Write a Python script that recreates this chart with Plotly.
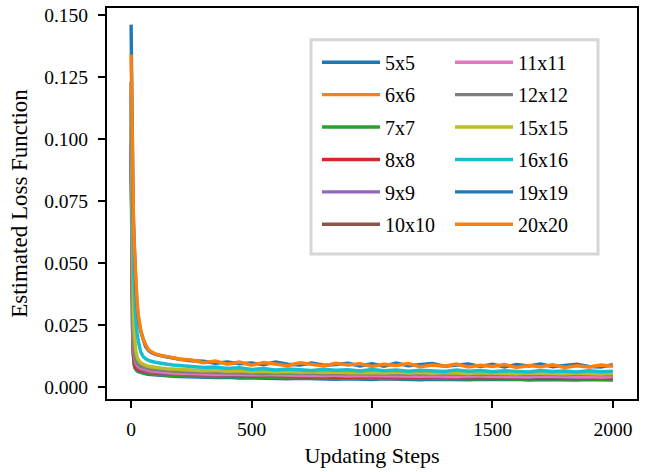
import plotly.graph_objects as go

FONT = "Liberation Serif, Times New Roman, serif"

# Updating steps at which the loss was logged
STEPS = [0, 2, 4, 6, 8, 10, 13, 16, 20, 25, 30, 40, 50, 60, 70, 80, 100, 120, 150, 175, 200] + list(range(250, 2001, 50))

SERIES_NAMES = ["5x5", "6x6", "7x7", "8x8", "9x9", "10x10",
                "11x11", "12x12", "15x15", "16x16", "19x19", "20x20"]

COLORS = ["#1f77b4", "#ff7f0e", "#2ca02c", "#d62728", "#9467bd", "#8c564b",
          "#e377c2", "#7f7f7f", "#bcbd22", "#17becf", "#1f77b4", "#ff7f0e"]

# Estimated loss (in units of 1e-3) for each grid size
LOSS_5x5 = [123, 66, 38, 24, 15.5, 11.2, 9.0, 7.7, 7.0, 6.5, 6.2, 5.8, 5.5, 5.3, 5.1, 5.0, 4.8, 4.6, 4.5, 4.3, 4.2,
            4.0, 4.1, 3.8, 3.9, 3.6, 3.7, 3.5, 3.6, 3.3, 3.5, 3.3, 3.4, 3.1, 3.3, 3.2, 3.0, 3.3, 3.1, 3.2, 2.9,
            3.1, 3.0, 3.2, 2.9, 3.1, 2.9, 3.0, 3.1, 2.8, 3.0, 2.9, 3.0, 2.8, 3.0, 2.9, 2.8]
LOSS_6x6 = [120, 70, 42, 27, 17.5, 12.5, 9.8, 8.3, 7.5, 7.0, 6.7, 6.3, 6.0, 5.8, 5.6, 5.5, 5.3, 5.1, 4.9, 4.8, 4.7,
            4.7, 4.5, 4.4, 4.3, 4.3, 4.1, 4.2, 4.0, 4.1, 3.9, 4.0, 3.8, 3.9, 3.8, 3.9, 3.7, 3.8, 3.7, 3.7, 3.6,
            3.7, 3.6, 3.6, 3.5, 3.6, 3.5, 3.6, 3.5, 3.4, 3.5, 3.4, 3.5, 3.4, 3.4, 3.5, 3.4]
LOSS_7x7 = [92, 58, 37, 24, 15.5, 11.5, 9.3, 8.0, 7.3, 6.8, 6.5, 6.1, 5.8, 5.6, 5.4, 5.3, 5.1, 5.0, 4.8, 4.7, 4.6,
            4.4, 4.3, 4.1, 4.2, 4.0, 3.9, 4.0, 3.8, 3.7, 3.8, 3.6, 3.7, 3.5, 3.6, 3.5, 3.4, 3.6, 3.4, 3.5, 3.3,
            3.4, 3.3, 3.4, 3.2, 3.4, 3.3, 3.2, 3.3, 3.1, 3.3, 3.2, 3.1, 3.3, 3.2, 3.1, 3.2]
LOSS_8x8 = [95, 62, 40, 26, 17, 12.5, 10.0, 8.6, 7.8, 7.3, 7.0, 6.6, 6.3, 6.1, 5.9, 5.8, 5.6, 5.5, 5.3, 5.2, 5.1,
            4.9, 4.8, 4.7, 4.5, 4.6, 4.3, 4.4, 4.2, 4.3, 4.1, 4.2, 4.0, 4.1, 3.9, 4.1, 3.9, 4.0, 3.8, 3.9, 3.8,
            3.9, 3.7, 3.8, 3.7, 3.8, 3.6, 3.8, 3.7, 3.6, 3.7, 3.5, 3.7, 3.6, 3.5, 3.7, 3.6]
LOSS_9x9 = [96, 64, 42, 29, 20, 15, 11.8, 10.0, 8.9, 8.2, 7.7, 7.1, 6.7, 6.4, 6.2, 6.0, 5.8, 5.6, 5.4, 5.3, 5.1,
            5.0, 4.9, 4.8, 4.9, 4.7, 4.6, 4.7, 4.5, 4.6, 4.4, 4.5, 4.3, 4.4, 4.3, 4.2, 4.4, 4.2, 4.1, 4.3, 4.1,
            4.2, 4.0, 4.2, 4.1, 3.9, 4.1, 4.0, 4.1, 3.9, 4.0, 3.9, 4.1, 3.9, 4.0, 3.8, 4.0]
LOSS_10x10 = [98, 67, 45, 31, 21.5, 16, 12.5, 10.6, 9.3, 8.5, 8.0, 7.4, 7.0, 6.7, 6.5, 6.3, 6.0, 5.8, 5.6, 5.5, 5.3,
              5.2, 5.0, 5.1, 4.9, 4.8, 4.9, 4.7, 4.8, 4.6, 4.7, 4.5, 4.6, 4.4, 4.6, 4.5, 4.3, 4.5, 4.4, 4.3, 4.4,
              4.2, 4.4, 4.3, 4.1, 4.3, 4.2, 4.0, 4.3, 4.1, 4.2, 4.0, 4.2, 4.1, 3.9, 4.1, 4.0]
LOSS_11x11 = [100, 70, 48, 33, 23, 17, 13.2, 11.2, 9.8, 8.9, 8.3, 7.7, 7.3, 7.0, 6.8, 6.6, 6.3, 6.1, 5.9, 5.7, 5.6,
              5.4, 5.3, 5.1, 5.2, 5.0, 4.9, 5.0, 4.8, 4.9, 4.7, 4.8, 4.6, 4.8, 4.5, 4.7, 4.6, 4.4, 4.6, 4.5, 4.3,
              4.5, 4.4, 4.2, 4.5, 4.3, 4.4, 4.2, 4.3, 4.1, 4.4, 4.2, 4.3, 4.1, 4.2, 4.0, 4.2]
LOSS_12x12 = [105, 76, 53, 37, 26, 19, 14.5, 12.2, 10.6, 9.6, 9.0, 8.3, 7.9, 7.6, 7.4, 7.2, 7.0, 6.8, 6.6, 6.4, 6.3,
              6.1, 6.0, 5.8, 6.0, 5.7, 5.8, 5.5, 5.7, 5.6, 5.4, 5.6, 5.4, 5.5, 5.3, 5.5, 5.2, 5.4, 5.3, 5.1, 5.4,
              5.2, 5.3, 5.1, 5.3, 5.0, 5.2, 5.1, 5.3, 5.0, 5.2, 5.1, 4.9, 5.2, 5.0, 5.1, 4.9]
LOSS_15x15 = [112, 88, 67, 51, 39, 30, 22, 17.5, 14.2, 12.2, 11.0, 9.8, 9.1, 8.7, 8.4, 8.2, 7.9, 7.7, 7.4, 7.2, 7.1,
              6.9, 6.6, 6.8, 6.4, 6.6, 6.2, 6.4, 6.1, 6.3, 6.0, 6.2, 5.9, 6.1, 5.8, 6.0, 5.9, 5.7, 6.0, 5.7, 5.9,
              5.6, 5.9, 5.7, 5.5, 5.8, 5.6, 5.7, 5.4, 5.7, 5.5, 5.6, 5.4, 5.7, 5.5, 5.3, 5.6]
LOSS_16x16 = [118, 100, 84, 70, 59, 50, 41, 34, 27, 22, 18.5, 14.2, 12.3, 11.4, 10.9, 10.5, 10.0, 9.6, 9.2, 8.9, 8.7,
              8.4, 7.9, 8.1, 7.5, 7.8, 7.1, 7.5, 6.9, 7.3, 7.0, 6.7, 7.2, 6.8, 7.0, 6.5, 7.1, 6.6, 6.9, 6.4, 6.8,
              6.6, 6.3, 6.9, 6.4, 6.7, 6.2, 6.6, 6.4, 6.1, 6.7, 6.3, 6.5, 6.1, 6.6, 6.2, 6.4]
LOSS_19x19 = [146, 121, 103, 89, 77, 67, 56, 48, 40, 33, 28, 22.5, 18.8, 16.4, 15.0, 14.1, 13.2, 12.7, 12.1, 11.7, 11.2,
              10.6, 10.4, 9.6, 10.1, 9.4, 9.7, 9.0, 10.1, 9.2, 8.9, 9.7, 8.8, 9.1, 9.6, 8.5, 9.4, 8.4, 9.7, 8.6, 9.0,
              9.5, 8.4, 8.8, 9.3, 8.3, 9.2, 8.1, 9.1, 8.5, 9.3, 8.2, 8.8, 9.2, 8.3, 8.1, 9.0]
LOSS_20x20 = [134, 116, 100, 87, 76, 67, 57, 49, 41, 34, 29, 23, 19.2, 16.8, 15.3, 14.4, 13.4, 12.9, 12.2, 11.8, 11.3,
              10.9, 9.8, 10.5, 9.2, 10.1, 8.8, 9.9, 9.3, 8.6, 9.8, 9.0, 8.5, 9.6, 8.9, 9.4, 8.3, 9.2, 8.7, 9.5, 8.2,
              8.9, 8.4, 9.3, 8.1, 8.8, 8.3, 9.1, 7.9, 8.7, 8.2, 9.0, 7.9, 8.6, 8.1, 8.9, 8.4]

LOSSES = [LOSS_5x5, LOSS_6x6, LOSS_7x7, LOSS_8x8, LOSS_9x9, LOSS_10x10,
          LOSS_11x11, LOSS_12x12, LOSS_15x15, LOSS_16x16, LOSS_19x19, LOSS_20x20]

X_TICKS = [0, 500, 1000, 1500, 2000]
Y_TICKS = [0.0, 0.025, 0.05, 0.075, 0.1, 0.125, 0.15]

fig = go.Figure()
for i, (name, color, vals) in enumerate(zip(SERIES_NAMES, COLORS, LOSSES)):
    fig.add_trace(go.Scatter(
        x=STEPS,
        y=[v / 1000 for v in vals],
        mode="lines",
        name=name,
        line=dict(color=color, width=3.4),
        legend="legend" if i < 6 else "legend2",
        legendgroup=name,
    ))

W, H = 667, 472
ML, MR, MT, MB = 107, 30, 5, 73
PW, PH = W - ML - MR, H - MT - MB


def px_x(px):
    return (px - ML) / PW


def px_y(py):
    return (H - MB - py) / PH


legend_common = dict(
    xanchor="left", yanchor="top",
    bgcolor="rgba(0,0,0,0)", borderwidth=0,
    font=dict(family=FONT, size=20, color="black"),
    tracegroupgap=3.4, traceorder="grouped", itemwidth=58,
)

fig.update_layout(
    width=W, height=H,
    margin=dict(l=ML, r=MR, t=MT, b=MB),
    paper_bgcolor="white", plot_bgcolor="white",
    font=dict(family=FONT, color="black"),
    showlegend=True,
    legend=dict(x=px_x(317), y=px_y(40), **legend_common),
    legend2=dict(x=px_x(450), y=px_y(40), **legend_common),
    shapes=[dict(
        type="rect", xref="paper", yref="paper",
        x0=px_x(311), x1=px_x(598), y0=px_y(253), y1=px_y(37),
        fillcolor="white", line=dict(color="#d6d6d6", width=3), layer="above",
    )],
)

axis_common = dict(
    showline=True, linecolor="black", linewidth=2, mirror=True,
    ticks="outside", ticklen=7, tickwidth=1.5, tickcolor="black",
    showgrid=False, zeroline=False,
    tickfont=dict(family=FONT, size=19.5, color="black"),
)

fig.update_xaxes(
    range=[-100, 2100], tickvals=X_TICKS, ticklabelstandoff=5,
    title=dict(text="Updating Steps", font=dict(family=FONT, size=22), standoff=8),
    **axis_common,
)
fig.update_yaxes(
    range=[-0.0048, 0.1527], tickvals=Y_TICKS, tickformat=".3f", ticklabelstandoff=6,
    title=dict(text="Estimated Loss Function", font=dict(family=FONT, size=23), standoff=10),
    **axis_common,
)

fig.write_html("out.html")
